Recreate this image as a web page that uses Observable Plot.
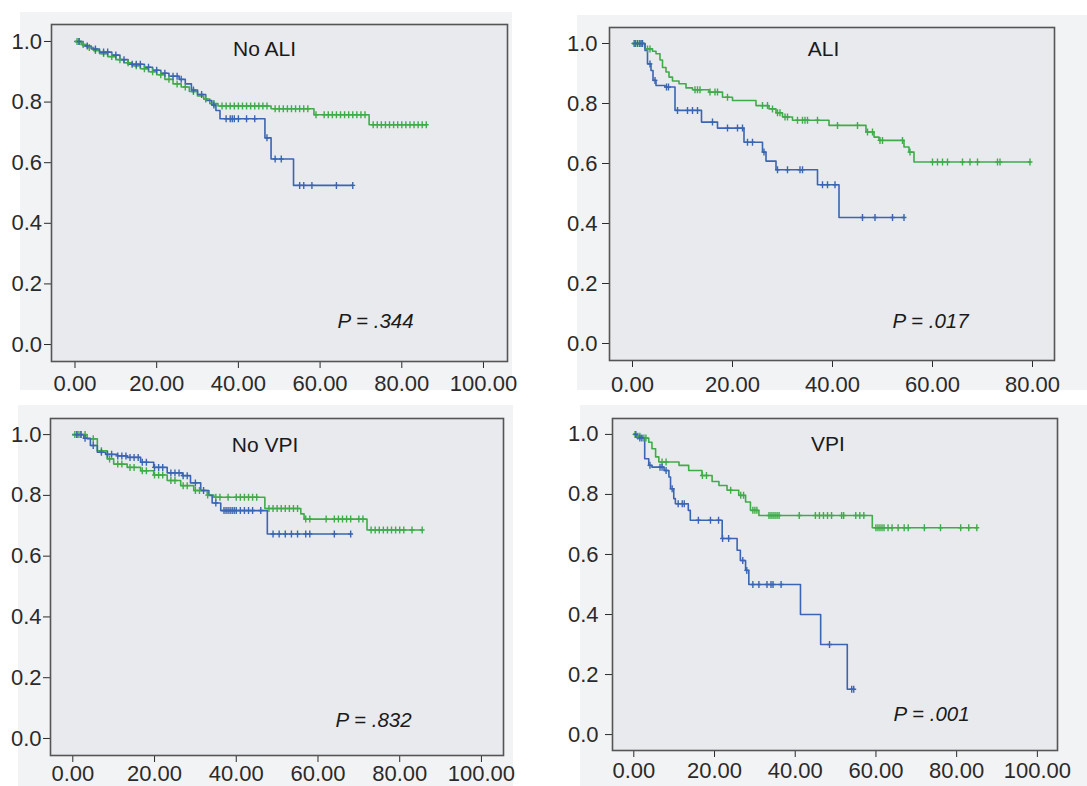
<!DOCTYPE html>
<html>
<head>
<meta charset="utf-8">
<script src="https://cdn.jsdelivr.net/npm/d3@7"></script>
<script src="https://cdn.jsdelivr.net/npm/@observablehq/plot@0.6"></script>
<style>
  html, body { margin: 0; padding: 0; background: #fff; }
  #root { position: relative; width: 1087px; height: 786px; overflow: hidden; background: #fff; }
  .bg { position: absolute; background: #f2f3f5; }
  .panel { position: absolute; }
  .panel svg { overflow: visible; }
</style>
</head>
<body>
<div id="root"></div>
<script>
// ---------- DATA ----------
const panelTitles = ["No ALI", "ALI", "No VPI", "VPI"];
const pValues = ["P = .344", "P = .017", "P = .832", "P = .001"];
const xTicks = [[0, 20, 40, 60, 80, 100], [0, 20, 40, 60, 80], [0, 20, 40, 60, 80, 100], [0, 20, 40, 60, 80, 100]];
const yTicks = [0, 0.2, 0.4, 0.6, 0.8, 1.0];

// Panel 1: No ALI
const noAliGreenT = [0, 1.5, 3, 4.5, 6, 8, 10, 12, 14, 16, 18, 20, 22, 24, 26, 28, 30, 31.5, 33, 35, 48, 58.5, 72];
const noAliGreenS = [1, 0.99, 0.98, 0.97, 0.96, 0.95, 0.94, 0.93, 0.92, 0.91, 0.90, 0.89, 0.875, 0.86, 0.85, 0.835, 0.82, 0.81, 0.795, 0.787, 0.778, 0.758, 0.725];
const noAliGreenC = [0.5, 1, 2, 3.5, 5, 7, 9, 11, 13, 15, 17, 19, 21, 23, 25, 27, 29, 32, 34, 36, 37, 38, 39, 40, 41, 42, 43, 44, 45, 46, 47, 49, 50, 51, 52, 53, 54, 55, 56, 57, 59, 61, 62, 63, 64, 65, 66, 67, 68, 69, 70, 71, 73, 74, 75, 76, 77, 78, 79, 80, 81, 82, 83, 84, 85, 86];
const noAliBlueT = [0, 2, 4, 6, 9, 11, 13, 17, 19, 21, 23, 25.5, 27, 28.5, 30, 32, 33.5, 34.5, 35.5, 46.5, 48, 53.5];
const noAliBlueS = [1, 0.985, 0.975, 0.965, 0.955, 0.94, 0.925, 0.915, 0.905, 0.895, 0.885, 0.875, 0.86, 0.84, 0.825, 0.805, 0.79, 0.772, 0.745, 0.682, 0.612, 0.525];
const noAliBlueC = [1, 3, 5, 7, 8, 10, 12, 14, 15, 16, 18, 20, 22, 24, 25, 26, 29, 31, 34, 37, 38, 38.5, 39, 40, 42, 44, 47, 49, 50.5, 55, 56, 58, 64, 68];

// Panel 2: ALI
const aliGreenT = [0, 2.5, 4, 4.7, 5.5, 6, 6.7, 7.3, 8, 9.3, 10.7, 12, 15.3, 18, 20, 24.7, 27.3, 28.7, 30, 32, 39.3, 46.7, 48.3, 49.3, 54.3, 55.3, 56.3];
const aliGreenS = [1, 0.982, 0.974, 0.966, 0.945, 0.92, 0.905, 0.888, 0.875, 0.866, 0.852, 0.846, 0.838, 0.821, 0.81, 0.793, 0.782, 0.769, 0.755, 0.744, 0.727, 0.705, 0.688, 0.677, 0.655, 0.638, 0.605];
const aliGreenC = [0.3, 0.6, 1, 1.4, 1.8, 3, 3.5, 12.5, 13, 13.5, 15.5, 16.5, 17, 19, 26, 27, 28, 29, 29.5, 30.5, 31, 33, 34, 34.5, 35, 37, 41, 45, 47, 48, 49.5, 50, 54, 55.5, 60, 61, 62, 63, 66, 67.5, 69, 73, 73.5, 79.5];
const aliBlueT = [0, 2.5, 3, 3.7, 4.1, 4.7, 6.5, 8.5, 13.8, 17, 22.3, 26, 26.7, 28.7, 37, 41.3];
const aliBlueS = [1, 0.977, 0.932, 0.91, 0.877, 0.86, 0.855, 0.777, 0.738, 0.718, 0.671, 0.638, 0.608, 0.579, 0.529, 0.42];
const aliBlueC = [0.5, 1, 1.5, 2, 3.5, 4.5, 6.8, 7.2, 9, 11, 12, 13, 16, 19, 21, 22, 23, 24, 26.3, 29, 31, 33.5, 34, 38, 39, 40.5, 46, 48.5, 52, 54.3];

// Panel 3: No VPI
const noVpiGreenT = [0, 3.5, 6, 8.4, 10, 13.3, 16.6, 19.8, 23.1, 26.4, 29.6, 32.9, 34.5, 47, 55.8, 56.6, 72];
const noVpiGreenS = [1, 0.986, 0.947, 0.92, 0.903, 0.892, 0.881, 0.867, 0.849, 0.832, 0.816, 0.801, 0.794, 0.757, 0.739, 0.722, 0.686];
const noVpiGreenC = [0.5, 1, 1.5, 2, 3, 5, 7, 9, 11, 12, 14, 15, 17, 18, 20, 21, 22, 24, 25, 27, 28, 30, 31, 33, 35, 36, 38, 40, 41, 42, 43, 44, 45, 48, 49, 50, 51, 52, 53, 54, 55, 57, 58, 62, 64, 65, 66, 67, 68, 70, 71, 73, 74, 75, 76, 77, 78, 79, 80, 81, 83, 85.5];
const noVpiBlueT = [0, 2.7, 4.3, 6, 8, 10.9, 13.3, 16.6, 19.8, 23.1, 26.8, 28.8, 31.3, 33.3, 34.1, 36.2, 47.6];
const noVpiBlueS = [1, 0.988, 0.964, 0.942, 0.935, 0.93, 0.925, 0.909, 0.892, 0.874, 0.865, 0.841, 0.816, 0.80, 0.775, 0.75, 0.673];
const noVpiBlueC = [1, 2, 3, 5, 7, 8.5, 9.5, 11, 12, 13, 14, 15, 16, 17, 18, 20, 21, 22, 24, 25, 26, 27, 28, 30, 32, 35, 37, 37.5, 38, 38.5, 39, 39.5, 40, 41, 42, 43, 44, 46, 49, 50.5, 52, 53.5, 55, 57, 58, 64, 68];

// Panel 4: VPI
const vpiGreenT = [0, 0.8, 2, 3.7, 4.5, 5.4, 6.2, 11.2, 13.6, 16.9, 19.4, 21.1, 23.1, 26, 27.7, 28.9, 31, 59.1];
const vpiGreenS = [1, 0.994, 0.988, 0.974, 0.952, 0.925, 0.908, 0.897, 0.88, 0.863, 0.843, 0.83, 0.814, 0.797, 0.775, 0.747, 0.73, 0.689];
const vpiGreenC = [0.3, 1, 1.5, 2.5, 3, 7, 8, 17, 18, 24, 26.5, 27.2, 29.5, 30, 30.5, 33.5, 34, 34.5, 35, 35.5, 36, 41, 45, 46, 47, 48, 49, 51.5, 52, 55, 56, 57, 60, 60.5, 61, 61.5, 62, 63, 64, 65.5, 67, 68, 72, 76, 81, 83, 85];
const vpiBlueT = [0, 0.8, 2.7, 3.7, 4.5, 7.5, 8.7, 9.1, 9.9, 10.3, 13.5, 14, 21.9, 25.6, 26.4, 27.7, 28.5, 41.3, 46.3, 52.9];
const vpiBlueS = [1, 0.988, 0.919, 0.897, 0.891, 0.88, 0.858, 0.819, 0.786, 0.769, 0.747, 0.714, 0.653, 0.614, 0.58, 0.547, 0.50, 0.40, 0.30, 0.151];
const vpiBlueC = [0.5, 1.5, 2, 4, 6.5, 7, 8, 9.5, 11, 12, 12.5, 16, 19, 21, 22, 23.5, 27, 28, 29.5, 31, 33, 34, 34.5, 36.5, 48.5, 54, 54.5];

// ---------- LAYOUT / STYLE ----------
const GREEN = "#40ab49";
const BLUE = "#3b65b2";
const layout = [
  {left: 0,   top: 0,   w: 543, h: 393, ml: 51, mr: 36, mt: 24, mb: 32, xd: [-5.75, 105.88], yd: [-0.056, 1.056],   xpad: 7, ypad: 2.5, bg: [20, 12, 492, 378],  title: [213, 24.5], p: [286, 297]},
  {left: 545, top: 0,   w: 542, h: 393, ml: 64, mr: 33, mt: 27, mb: 33, xd: [-4.6, 84.4],    yd: [-0.0567, 1.0533], xpad: 9, ypad: 5,   bg: [577, 15, 510, 375], title: [214, 22],   p: [283, 294]},
  {left: 0,   top: 395, w: 543, h: 391, ml: 50, mr: 40, mt: 23, mb: 31, xd: [-5.46, 105.4],  yd: [-0.056, 1.053],   xpad: 3, ypad: 2,   bg: [18, 405, 495, 381], title: [214.5, 27], p: [285, 302]},
  {left: 545, top: 395, w: 542, h: 391, ml: 67, mr: 30, mt: 23, mb: 36, xd: [-5.28, 104.99], yd: [-0.053, 1.053],   xpad: 5, ypad: 7,   bg: [580, 405, 507, 381], title: [215.5, 26], p: [281, 296]}
];

function km(T, S, C) {
  const end = Math.max(T[T.length - 1], ...C);
  const pts = T.map((t, i) => ({t, s: S[i]}));
  pts.push({t: end, s: S[S.length - 1]});
  const cens = C.map(t => ({t, s: S[Math.max(0, d3.bisectRight(T, t) - 1)]}));
  return {pts, cens};
}

const curves = [
  [km(noAliGreenT, noAliGreenS, noAliGreenC), km(noAliBlueT, noAliBlueS, noAliBlueC)],
  [km(aliGreenT, aliGreenS, aliGreenC), km(aliBlueT, aliBlueS, aliBlueC)],
  [km(noVpiGreenT, noVpiGreenS, noVpiGreenC), km(noVpiBlueT, noVpiBlueS, noVpiBlueC)],
  [km(vpiGreenT, vpiGreenS, vpiGreenC), km(vpiBlueT, vpiBlueS, vpiBlueC)]
];

const censorSymbol = {
  draw(ctx, size) {
    const h = Math.sqrt(size / Math.PI);
    ctx.moveTo(0, -h); ctx.lineTo(0, h);
    ctx.moveTo(-h * 0.7, 0); ctx.lineTo(h * 0.7, 0);
  }
};

const root = document.getElementById("root");
layout.forEach((L, i) => {
  const bg = document.createElement("div");
  bg.className = "bg";
  Object.assign(bg.style, {left: L.bg[0] + "px", top: L.bg[1] + "px", width: L.bg[2] + "px", height: L.bg[3] + "px"});
  root.appendChild(bg);

  const [g, b] = curves[i];
  const chart = Plot.plot({
    width: L.w, height: L.h,
    marginLeft: L.ml, marginRight: L.mr, marginTop: L.mt, marginBottom: L.mb,
    style: {fontFamily: "'Liberation Sans', Arial, sans-serif", fontSize: "22px", background: "transparent", color: "#2a2a2a", overflow: "visible"},
    x: {domain: L.xd, ticks: xTicks[i], tickFormat: d => d.toFixed(2), tickSize: 7, tickPadding: L.xpad, label: null},
    y: {domain: L.yd, ticks: yTicks, tickFormat: d => d.toFixed(1), tickSize: 7, tickPadding: L.ypad, label: null},
    marks: [
      Plot.frame({fill: "#e8eaee", stroke: null}),
      Plot.line(g.pts, {x: "t", y: "s", curve: "step-after", stroke: GREEN, strokeWidth: 1.6}),
      Plot.line(b.pts, {x: "t", y: "s", curve: "step-after", stroke: BLUE, strokeWidth: 1.6}),
      Plot.dot(g.cens, {x: "t", y: "s", symbol: censorSymbol, r: 3.5, stroke: GREEN, fill: "none", strokeWidth: 1.4}),
      Plot.dot(b.cens, {x: "t", y: "s", symbol: censorSymbol, r: 3.5, stroke: BLUE, fill: "none", strokeWidth: 1.4}),
      Plot.text([panelTitles[i]], {frameAnchor: "top-left", lineAnchor: "middle", dx: L.title[0], dy: L.title[1], textAnchor: "middle", fontSize: 21, fill: "#1a1a1a"}),
      Plot.text([pValues[i]], {frameAnchor: "top-left", lineAnchor: "middle", dx: L.p[0], dy: L.p[1], textAnchor: "start", fontSize: 20.5, fontStyle: "italic", fill: "#1a1a1a"}),
      Plot.frame({stroke: "#555", strokeWidth: 1.6})
    ]
  });
  const wrap = document.createElement("div");
  wrap.className = "panel";
  Object.assign(wrap.style, {left: L.left + "px", top: L.top + "px"});
  wrap.appendChild(chart);
  root.appendChild(wrap);
});
</script>
</body>
</html>
